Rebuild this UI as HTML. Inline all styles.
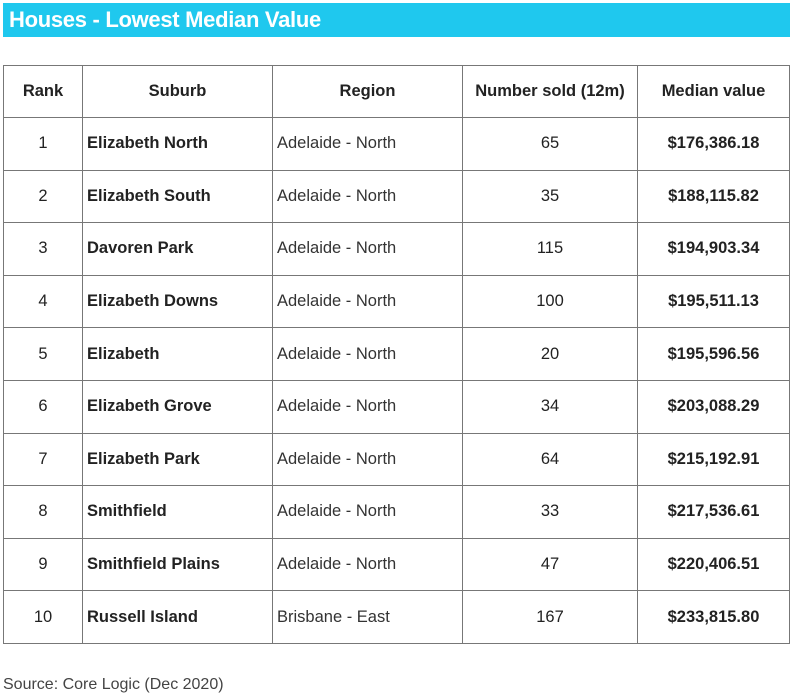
<!DOCTYPE html>
<html><head><meta charset="utf-8"><style>
body{margin:0;width:800px;height:695px;background:#fff;font-family:"Liberation Sans",sans-serif;position:relative;overflow:hidden}
#banner{position:absolute;left:3px;top:3px;width:787px;height:34px;background:#1fc8ee;color:#fff;font-weight:bold;font-size:22px;line-height:34px;padding-left:6px;box-sizing:border-box;letter-spacing:-0.3px}
table{position:absolute;left:3px;top:65px;border-collapse:collapse;color:#222}
td,th{border:1.5px solid #777;font-size:16.5px;padding:0;height:51.6px}
th{height:51px;font-weight:bold}
td.c{text-align:center}
td.b{font-weight:bold;padding-left:4px}
td.r{padding-left:4px;color:#333}
#src{position:absolute;left:3px;top:676px;font-size:16px;color:#444}
</style></head><body>
<div id="banner">Houses - Lowest Median Value</div>
<table>
<colgroup><col style="width:79px"><col style="width:190px"><col style="width:190px"><col style="width:175px"><col style="width:152px"></colgroup>
<tr><th>Rank</th><th>Suburb</th><th>Region</th><th>Number sold (12m)</th><th>Median value</th></tr>
<tbody id="tb"></tbody>
</table>
<div id="src">Source: Core Logic (Dec 2020)</div>
<script>
const suburbs=["Elizabeth North","Elizabeth South","Davoren Park","Elizabeth Downs","Elizabeth","Elizabeth Grove","Elizabeth Park","Smithfield","Smithfield Plains","Russell Island"];
const regions=["Adelaide - North","Adelaide - North","Adelaide - North","Adelaide - North","Adelaide - North","Adelaide - North","Adelaide - North","Adelaide - North","Adelaide - North","Brisbane - East"];
const sold=[65,35,115,100,20,34,64,33,47,167];
const medians=["$176,386.18","$188,115.82","$194,903.34","$195,511.13","$195,596.56","$203,088.29","$215,192.91","$217,536.61","$220,406.51","$233,815.80"];
const tb=document.getElementById('tb');
suburbs.forEach((s,i)=>{
const tr=document.createElement('tr');


tr.innerHTML=`<td class="c">${i+1}</td><td class="b">${s}</td><td class="r">${regions[i]}</td><td class="c">${sold[i]}</td><td class="c" style="font-weight:bold">${medians[i]}</td>`;
tb.appendChild(tr);
});
</script>
</body></html>
